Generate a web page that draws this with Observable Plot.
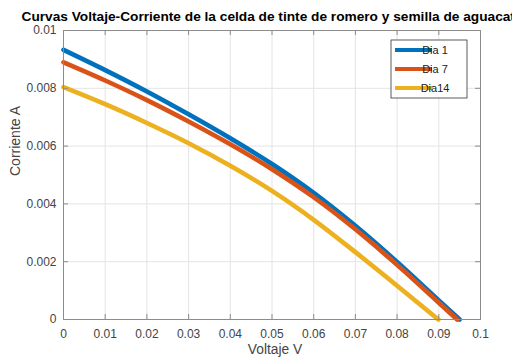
<!DOCTYPE html>
<html><head><meta charset="utf-8">
<script src="https://cdn.jsdelivr.net/npm/d3@7"></script>
<script src="https://cdn.jsdelivr.net/npm/@observablehq/plot@0.6"></script>
<style>
html,body{margin:0;padding:0;background:#fff;overflow:hidden;width:512px;height:363px}
#chart{position:relative;width:512px;height:363px;overflow:hidden}
</style></head><body><div id="chart"></div>
<script>
const seriesNames = ["Dia 1", "Dia 7", "Dia14"];
const seriesColors = ["#0072BD", "#D95319", "#EDB120"];

const voltDia1 = [0, 0.01, 0.02, 0.03, 0.04, 0.05, 0.06, 0.07, 0.08, 0.09, 0.095];
const currDia1 = [0.00933, 0.00863, 0.00789, 0.00710, 0.00627, 0.00538, 0.00438, 0.00324, 0.00199, 0.00066, 0];

const voltDia7 = [0, 0.01, 0.02, 0.03, 0.04, 0.05, 0.06, 0.07, 0.08, 0.09, 0.0944];
const currDia7 = [0.00890, 0.00827, 0.00759, 0.00685, 0.00606, 0.00520, 0.00423, 0.00312, 0.00189, 0.00058, 0];

const voltDia14 = [0, 0.01, 0.02, 0.03, 0.04, 0.05, 0.06, 0.07, 0.08, 0.0899];
const currDia14 = [0.00804, 0.00745, 0.00680, 0.00610, 0.00532, 0.00445, 0.00345, 0.00233, 0.00117, 0];

const xTicks = [0, 0.01, 0.02, 0.03, 0.04, 0.05, 0.06, 0.07, 0.08, 0.09, 0.1];
const yTicks = [0, 0.002, 0.004, 0.006, 0.008, 0.01];

const titleText = "Curvas Voltaje-Corriente de la celda de tinte de romero y semilla de aguacate";
const xLabel = "Voltaje V";
const yLabel = "Corriente A";

const volts = [voltDia1, voltDia7, voltDia14];
const currs = [currDia1, currDia7, currDia14];
const rows = [];
seriesNames.forEach((name, s) => {
  volts[s].forEach((v, k) => rows.push({serie: name, v, i: currs[s][k]}));
});

const W = 512, H = 363, mL = 63, mR = 32, mT = 30, mB = 44;
const innerW = W - mL - mR, innerH = H - mT - mB;
const tickLen = 5;
const axisColor = "#8c8c8c";
const font = "'Liberation Sans', Arial, Helvetica, sans-serif";

const plot = Plot.plot({
  width: W, height: H,
  marginLeft: mL, marginRight: mR, marginTop: mT, marginBottom: mB,
  style: {fontFamily: font, background: "#fff", overflow: "visible"},
  x: {domain: [0, 0.1]},
  y: {domain: [0, 0.01]},
  color: {domain: seriesNames, range: seriesColors},
  marks: [
    Plot.gridX(xTicks, {stroke: "#e4e4e4", strokeOpacity: 1}),
    Plot.gridY(yTicks, {stroke: "#e4e4e4", strokeOpacity: 1}),
    Plot.line(rows, {x: "v", y: "i", z: "serie", stroke: "serie", strokeWidth: 4.6, curve: "monotone-x", strokeLinecap: "round", strokeLinejoin: "round"}),
    Plot.frame({stroke: axisColor}),
    Plot.tickX(xTicks, {x: d => d, insetTop: innerH - tickLen, stroke: axisColor}),
    Plot.tickX(xTicks, {x: d => d, insetBottom: innerH - tickLen, stroke: axisColor}),
    Plot.tickY(yTicks, {y: d => d, insetRight: innerW - tickLen, stroke: axisColor}),
    Plot.tickY(yTicks, {y: d => d, insetLeft: innerW - tickLen, stroke: axisColor}),
    Plot.axisX(xTicks, {tickSize: 0, tickPadding: 10, tickFormat: d3.format("~g"), fontSize: 12, fill: "#444", label: null}),
    Plot.axisY(yTicks, {tickSize: 0, tickPadding: 7, tickFormat: d3.format("~g"), fontSize: 12, fill: "#444", label: null}),
    Plot.text([xLabel], {text: d => d, frameAnchor: "bottom", lineAnchor: "middle", dx: 3, dy: 29.8, fontSize: 13.8, fill: "#444"}),
    Plot.text([yLabel], {text: d => d, frameAnchor: "left", lineAnchor: "middle", rotate: -90, dx: -48, dy: 1, fontSize: 14, fill: "#444"}),
    Plot.text([titleText], {text: d => d, frameAnchor: "top-left", textAnchor: "start", lineAnchor: "middle", dx: -42, dy: -14.2, fontSize: 13.7, fontWeight: "bold", fill: "#000"})
  ]
});
document.getElementById("chart").appendChild(plot);

// Legend inside the plot (top-right)
const svg = d3.select(plot);
const lg = svg.append("g").attr("font-family", font).attr("font-size", 11);
lg.append("rect").attr("x", 391).attr("y", 40).attr("width", 76).attr("height", 58)
  .attr("fill", "#fff").attr("stroke", "#333").attr("stroke-width", 0.8);
seriesNames.forEach((name, s) => {
  const y = 50 + s * 19;
  lg.append("line").attr("x1", 395).attr("x2", 432).attr("y1", y).attr("y2", y)
    .attr("stroke", seriesColors[s]).attr("stroke-width", 4);
  lg.append("text").attr("x", 435).attr("y", y + 4).attr("fill", "#222").text(name);
});
</script>
</body></html>
